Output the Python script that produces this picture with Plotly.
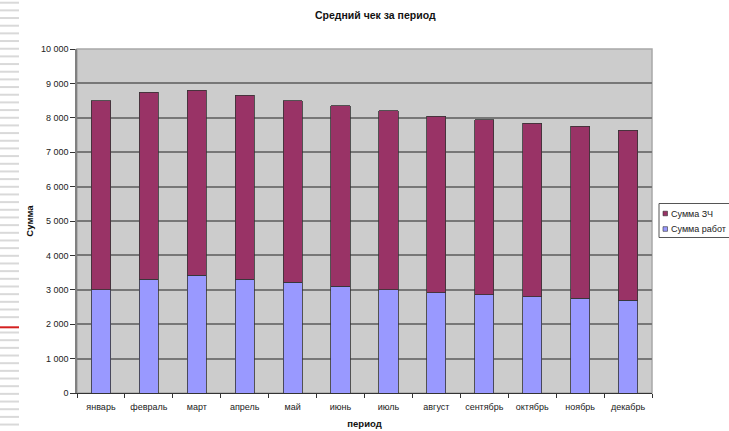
import plotly.graph_objects as go

# Monthly average check, split into parts (ЗЧ) and labour (работ)
months = ["январь", "февраль", "март", "апрель", "май", "июнь",
          "июль", "август", "сентябрь", "октябрь", "ноябрь", "декабрь"]
work_sum = [3000, 3300, 3420, 3300, 3220, 3110, 3000, 2920, 2860, 2800, 2760, 2700]
parts_sum = [5500, 5450, 5380, 5350, 5280, 5240, 5200, 5130, 5090, 5040, 4990, 4940]

series_names = ["Сумма ЗЧ", "Сумма работ"]
series_colors = ["#993366", "#9999FF"]

y_ticks = [0, 1000, 2000, 3000, 4000, 5000, 6000, 7000, 8000, 9000, 10000]
y_tick_text = ["0", "1 000", "2 000", "3 000", "4 000", "5 000",
               "6 000", "7 000", "8 000", "9 000", "10 000"]

W, H = 729, 431
ML, MR, MT, MB = 77, 77, 49, 38
PW, PH = W - ML - MR, H - MT - MB
FONT = "Liberation Sans, Arial, sans-serif"


def px_x(px):
    return (px - ML) / PW


def px_y(py):
    return (H - MB - py) / PH


fig = go.Figure()
fig.add_trace(go.Bar(x=months, y=work_sum, name=series_names[1],
                     marker=dict(color=series_colors[1], line=dict(color="#333333", width=0.8)),
                     width=0.4, showlegend=False))
fig.add_trace(go.Bar(x=months, y=parts_sum, name=series_names[0],
                     marker=dict(color=series_colors[0], line=dict(color="#333333", width=0.8)),
                     width=0.4, showlegend=False))

shapes = []
annotations = []

# striped page edge on the left
y = 2.7
while y < H:
    if abs(y - 327) > 4:
        shapes.append(dict(type="line", xref="paper", yref="paper",
                           x0=px_x(0), x1=px_x(19), y0=px_y(y), y1=px_y(y),
                           line=dict(color="#d9d9d9", width=2)))
    y += 7.67
shapes.append(dict(type="line", xref="paper", yref="paper",
                   x0=px_x(0), x1=px_x(19), y0=px_y(327.3), y1=px_y(327.3),
                   line=dict(color="#d42020", width=2)))

# legend box
shapes.append(dict(type="rect", xref="paper", yref="paper",
                   x0=px_x(659), x1=px_x(760), y0=px_y(203.5), y1=px_y(237.5),
                   line=dict(color="#555555", width=1), fillcolor="white"))
for i, (name, col) in enumerate(zip(series_names, series_colors)):
    cy = 213.5 + i * 15.5
    shapes.append(dict(type="rect", xref="paper", yref="paper",
                       x0=px_x(663), x1=px_x(667.5), y0=px_y(cy - 2.3), y1=px_y(cy + 2.3),
                       line=dict(color="#333333", width=0.6), fillcolor=col))
    annotations.append(dict(text=name, xref="paper", yref="paper",
                            x=px_x(668.5), y=px_y(cy), xanchor="left", yanchor="middle",
                            showarrow=False, font=dict(family=FONT, size=9, color="#222222")))

fig.update_layout(
    width=W, height=H,
    margin=dict(l=ML, r=MR, t=MT, b=MB, autoexpand=False),
    barmode="stack",
    paper_bgcolor="white",
    plot_bgcolor="#cccccc",
    title=dict(text="<b>Средний чек за период</b>", x=px_x(373), xanchor="center",
               y=1 - 15 / H, yanchor="middle",
               font=dict(family=FONT, size=10.5, color="#111111")),
    font=dict(family=FONT, size=9, color="#222222"),
    shapes=shapes,
    annotations=annotations,
    xaxis=dict(
        title=dict(text="<b>период</b>", font=dict(family=FONT, size=9.5, color="#111111"),
                   standoff=9),
        automargin=False,
        tickson="boundaries", ticks="outside", ticklen=4, tickcolor="#333333",
        ticklabelstandoff=5,
        showline=True, linecolor="#333333", linewidth=1, mirror=False,
        showgrid=False, tickfont=dict(size=9, color="#222222"),
    ),
    yaxis=dict(
        title=dict(text="<b>Сумма</b>", font=dict(family=FONT, size=9.5, color="#111111"),
                   standoff=6),
        automargin=False,
        range=[0, 10000], tickvals=y_ticks, ticktext=y_tick_text,
        ticks="outside", ticklen=5, tickcolor="#333333",
        showline=True, linecolor="#808080", linewidth=1.5, mirror=False,
        showgrid=True, gridcolor="#777777", gridwidth=1.5,
        zeroline=False, tickfont=dict(size=9, color="#222222"),
    ),
)

# light frame on the top and right of the plot area
fig.add_shape(type="rect", xref="paper", yref="paper", x0=0, x1=1, y0=0, y1=1,
              line=dict(color="#a8a8a8", width=1.5), layer="below")

fig.write_html("out.html")
